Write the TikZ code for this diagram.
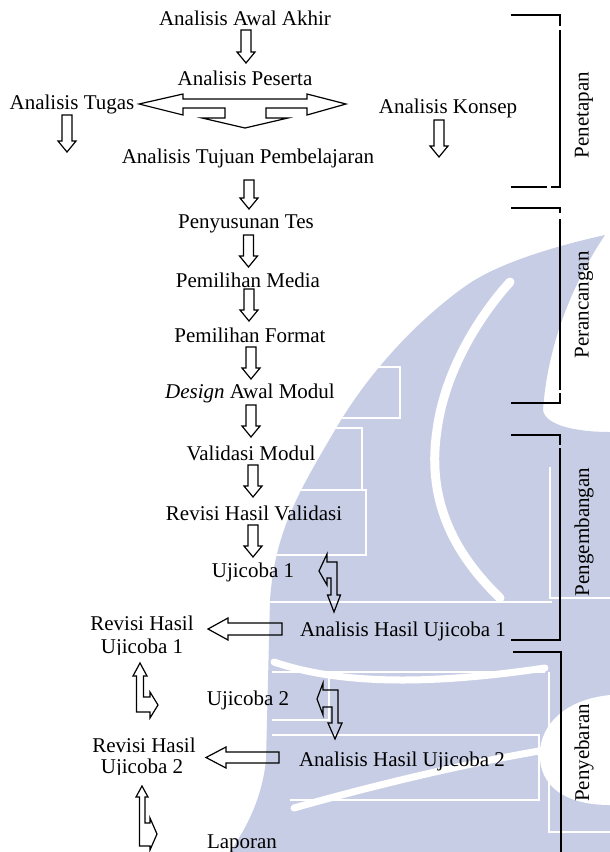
\documentclass[tikz,border=0pt]{standalone}
\usepackage{fontspec}
\setmainfont{Liberation Serif}
\definecolor{wm}{RGB}{199,205,228}
\tikzset{
  lbl/.style={anchor=base, inner sep=0pt, font=\fontsize{21}{24}\selectfont},
  side/.style={anchor=center, inner sep=0pt, rotate=90, font=\fontsize{21}{24}\selectfont},
  blk/.style={draw=black, line width=1.2pt, line join=miter},
  brk/.style={draw=black, line width=1.4pt},
  band/.style={draw=white, line width=9pt, line cap=round},
  frame/.style={draw=white, line width=1.3pt},
}
\newcommand\blkdown[3]{%
  \draw[blk] (#1-5,#2) -- (#1+5,#2) -- (#1+5,#3-11) -- (#1+9,#3-11) -- (#1,#3) -- (#1-9,#3-11) -- (#1-5,#3-11) -- cycle;}
\begin{document}
\begin{tikzpicture}[x=1pt,y=-1pt]
\useasboundingbox[fill=white] (0,0) rectangle (610,852);

% watermark (light logo in the background)
\begin{scope}
  \clip (0,0) rectangle (610,852);
  \fill[wm] (605,235) .. controls (560,245) and (500,262) .. (467,285)
    .. controls (420,318) and (370,370) .. (335,430)
    .. controls (300,490) and (275,530) .. (270,600) -- (266,760)
    .. controls (262,800) and (245,830) .. (230,852) -- (610,852) -- (610,432)
    .. controls (575,432) and (545,425) .. (543,410)
    .. controls (548,340) and (575,280) .. (605,235) -- cycle;
  \fill[white] (610,695) .. controls (560,700) and (537,730) .. (540,760)
    .. controls (543,790) and (570,805) .. (610,805) -- cycle;
  \draw[band] (510,282) .. controls (480,315) and (445,370) .. (437,430)
    .. controls (428,490) and (445,545) .. (500,598);
  \draw[band, line width=7pt] (274,662) .. controls (350,688) and (450,682) .. (545,668);
  \draw[band, line width=7pt] (294,808) .. controls (350,792) and (450,766) .. (545,750);
  \draw[frame] (333,367) -- (400,367) -- (400,418) -- (333,418);
  \draw[frame] (307,428) -- (362,428) -- (362,490);
  \draw[frame] (290,490) -- (366,490) -- (366,555) -- (272,555);
  \draw[frame] (268,602) -- (552,602);
  \draw[frame] (550,467) -- (550,598) -- (610,598);
  \draw[frame] (272,672) -- (545,672);
  \draw[frame] (329,672) -- (329,720) -- (272,720);
  \draw[frame] (272,735) -- (539,735) -- (539,800) -- (290,800);
  \draw[frame] (549,672) -- (549,832) -- (610,832);
\end{scope}

% texts
\node[lbl] (awal) at (245,25) {Analisis Awal Akhir};
\node[lbl] (peserta) at (245,85) {Analisis Peserta};
\node[lbl] (tugas) at (72,109) {Analisis Tugas};
\node[lbl] (konsep) at (448,113) {Analisis Konsep};
\node[lbl] (tujuan) at (248,163) {Analisis Tujuan Pembelajaran};
\node[lbl] (tes) at (246,228) {Penyusunan Tes};
\node[lbl] (media) at (248,287) {Pemilihan Media};
\node[lbl] (format) at (250,342) {Pemilihan Format};
\node[lbl] (design) at (250,398) {\textit{Design} Awal Modul};
\node[lbl] (validasi) at (251,460) {Validasi Modul};
\node[lbl] (revval) at (254,520) {Revisi Hasil Validasi};
\node[lbl] (uji1) at (253,577) {Ujicoba 1};
\node[lbl] (ahu1) at (403,636) {Analisis Hasil Ujicoba 1};
\node[lbl] (rev1a) at (142,630) {Revisi Hasil};
\begin{scope}
  \clip (80,634) rectangle (210,654);
  \node[lbl] (rev1b) at (142,653) {Ujicoba 1};
\end{scope}
\node[lbl] (uji2) at (248,705) {Ujicoba 2};
\node[lbl] (ahu2) at (402,766) {Analisis Hasil Ujicoba 2};
\node[lbl] (rev2a) at (144,752) {Revisi Hasil};
\begin{scope}
  \clip (80,756) rectangle (210,774);
  \node[lbl] (rev2b) at (142,773) {Ujicoba 2};
\end{scope}
\node[lbl] (laporan) at (242,848) {Laporan};

% side labels
\node[side] (p1) at (584,115) {Penetapan};
\node[side] (p2) at (584,305) {Perancangan};
\node[side] (p3) at (584,532) {Pengembangan};
\node[side] (p4) at (584,753) {Penyebaran};

% brackets
\draw[brk] (511,15) -- (560,15) -- (560,26);
\draw[brk] (560,30) -- (560,187) -- (551,187);
\draw[brk] (547,187) -- (511,187);
\draw[brk] (511,208) -- (560,208) -- (560,213);
\draw[brk] (560,219) -- (560,390);
\draw[brk] (560,393) -- (560,403) -- (511,403);
\draw[brk] (511,435) -- (560,435) -- (560,445);
\draw[brk] (560,448) -- (560,640) -- (511,640);
\draw[brk] (513,652) -- (561,652) -- (561,853);

% main column arrows
\blkdown{246}{30}{63}
\blkdown{249}{180}{209}
\blkdown{248.5}{235}{267}
\blkdown{249}{289}{321}
\blkdown{251}{347}{379}
\blkdown{251}{405}{437}
\blkdown{253}{465}{497}
\blkdown{253}{525}{557}
\blkdown{67}{115}{152}
\blkdown{439}{120}{157}

% big double arrow with downward branch
\draw[blk] (139,104) -- (183,94) -- (183,99) -- (307,99) -- (307,94) -- (346,104)
  -- (307,115) -- (307,108) -- (266,108) -- (266,118) -- (288,118) -- (245,128)
  -- (202,118) -- (225,118) -- (225,108) -- (183,108) -- (183,115) -- cycle;

% U-turn arrows
\draw[blk] (319,571) -- (327,554) -- (327,562) -- (337,562) -- (337,595) -- (340.5,595)
  -- (334,612) -- (327.5,595) -- (331,595) -- (331,578) -- (327,578) -- (327,585) -- cycle;
\draw[blk] (317,699) -- (323,683) -- (323,690) -- (338,690) -- (338,723) -- (342,723)
  -- (335,739) -- (328,723) -- (332,723) -- (332,707) -- (323,707) -- (323,715) -- cycle;

% bent up/right arrows
\draw[blk] (140,663) -- (147,676) -- (143.5,676) -- (143.5,697) -- (150,697) -- (150,692)
  -- (158,705) -- (150,718) -- (150,712) -- (136.5,712) -- (136.5,676) -- (133,676) -- cycle;
\draw[blk] (142,786) -- (148,797) -- (145,797) -- (145,823) -- (150,823) -- (150,818)
  -- (157,834) -- (150,850) -- (150,846) -- (139.5,846) -- (139.5,797) -- (136,797) -- cycle;

% left arrows
\draw[blk] (208,629) -- (228,618) -- (228,623) -- (282,623) -- (282,635) -- (228,635) -- (228,640) -- cycle;
\draw[blk] (206,757.5) -- (226,747) -- (226,752) -- (279,752) -- (279,763) -- (226,763) -- (226,768) -- cycle;
\end{tikzpicture}
\end{document}
